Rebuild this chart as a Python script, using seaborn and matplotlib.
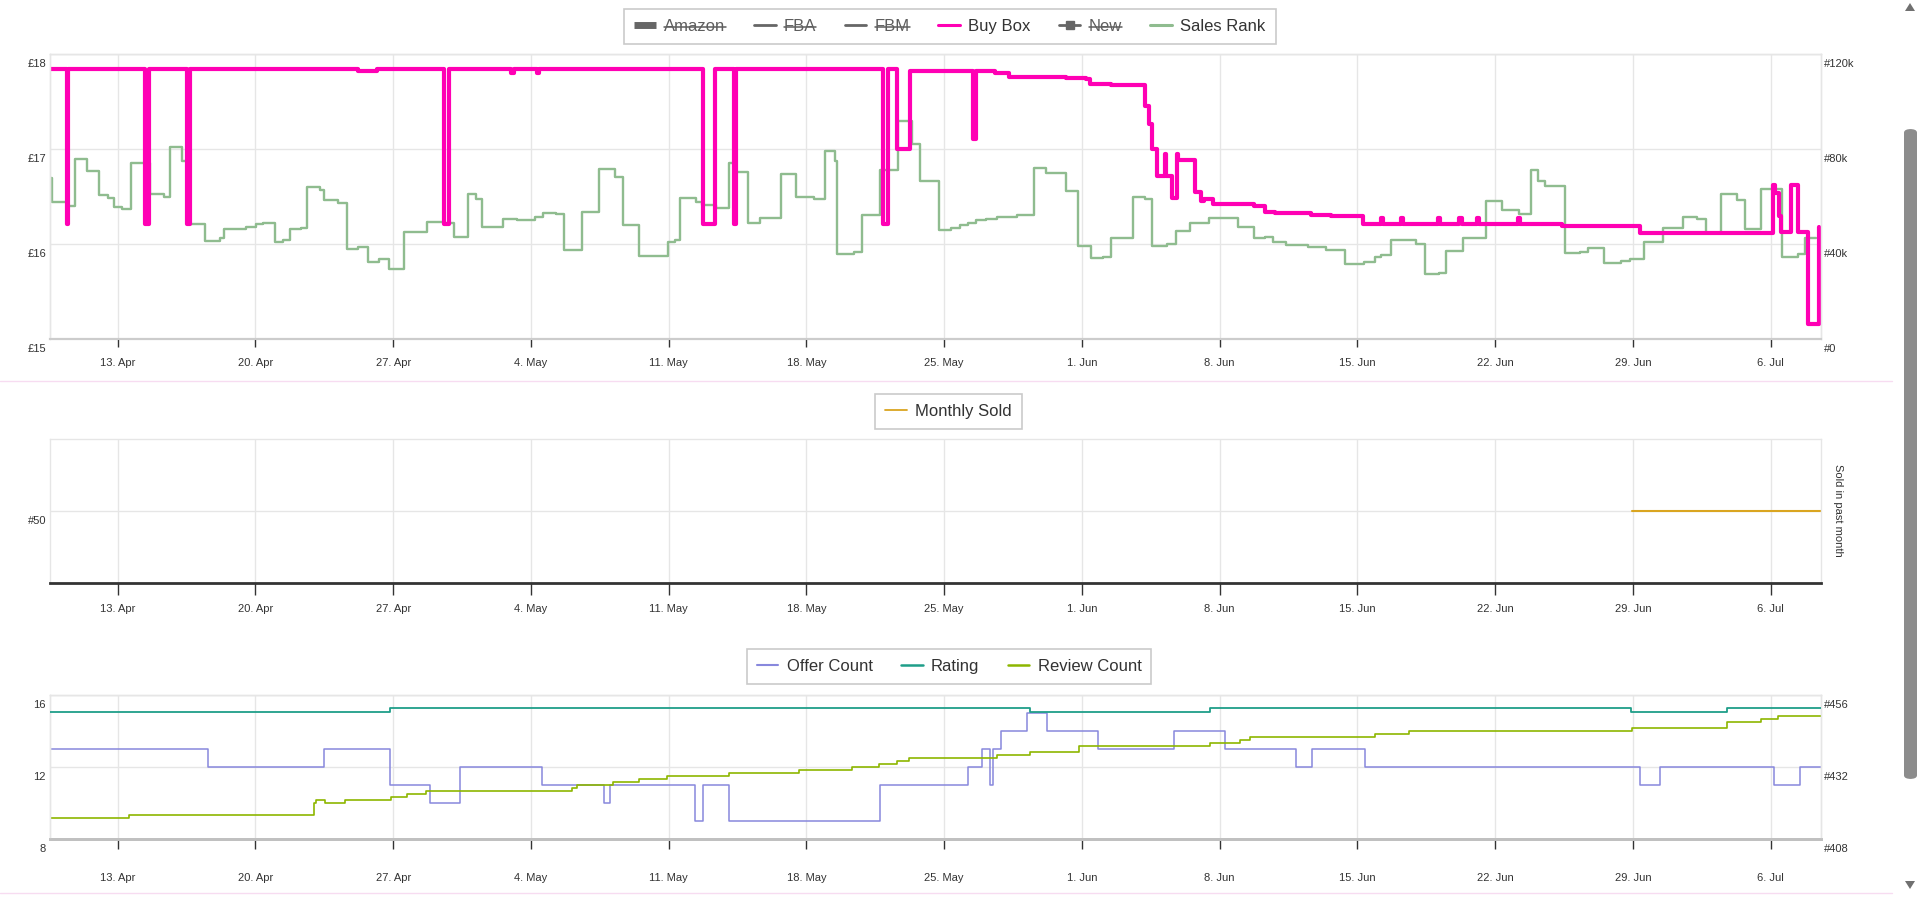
import matplotlib
matplotlib.use("Agg")
import matplotlib.pyplot as plt
import seaborn as sns
from matplotlib.lines import Line2D
from matplotlib.transforms import ScaledTranslation
from matplotlib.patches import FancyBboxPatch, Polygon

sns.set_style("white")
plt.rcParams["font.family"] = ["Liberation Sans", "DejaVu Sans"]

# ---------------- data (x = days since 13 Apr) ----------------
x_start, x_end = -3.44, 86.56
week_ticks = [0, 7, 14, 21, 28, 35, 42, 49, 56, 63, 70, 77, 84]
week_labels = ["13. Apr", "20. Apr", "27. Apr", "4. May", "11. May", "18. May",
               "25. May", "1. Jun", "8. Jun", "15. Jun", "22. Jun", "29. Jun", "6. Jul"]

price_ticks = [15, 16, 17, 18]
price_labels = ["£15", "£16", "£17", "£18"]
rank_ticks = [0, 40000, 80000, 120000]
rank_labels = ["#0", "#40k", "#80k", "#120k"]
sold_ticks = [50]
sold_labels = ["#50"]
offer_ticks = [8, 12, 16]
offer_labels = ["8", "12", "16"]
review_ticks = [408, 432, 456]
review_labels = ["#408", "#432", "#456"]

buybox_day = [-3.44, -2.60, -2.50, 1.39, 1.59, 3.52, 3.66, 12.2, 13.2, 16.6, 16.86,
              20.0, 20.15, 21.3, 21.4, 29.73, 30.37, 31.33, 31.42, 38.88, 39.15,
              39.6, 40.24, 43.45, 43.62, 44.56, 45.27, 48.2, 49.2, 49.4, 50.5,
              52.19, 52.4, 52.56, 52.8, 53.2, 53.28, 53.58, 53.83, 53.9, 54.76,
              55.06, 55.23, 55.66, 57.75, 58.29, 58.8, 60.66, 61.68, 63.3,
              64.2, 64.32, 65.2, 65.32, 67.1, 67.2, 68.15, 68.3, 69.1, 69.2,
              71.15, 71.25, 73.4, 77.34, 84.1, 84.22, 84.44, 84.52, 85.05, 85.4,
              85.9, 86.44]
buybox_gbp = [17.84, 16.21, 17.84, 16.21, 17.84, 16.21, 17.84, 17.82, 17.84, 16.21, 17.84,
              17.80, 17.84, 17.80, 17.84, 16.21, 17.84, 16.21, 17.84, 16.21, 17.84,
              17.00, 17.82, 17.10, 17.82, 17.80, 17.76, 17.75, 17.74, 17.68, 17.67,
              17.45, 17.26, 17.00, 16.72, 16.95, 16.72, 16.48, 16.95, 16.88, 16.55,
              16.45, 16.47, 16.42, 16.40, 16.34, 16.33, 16.31, 16.29, 16.21,
              16.27, 16.21, 16.27, 16.21, 16.27, 16.21, 16.27, 16.21, 16.27, 16.21,
              16.27, 16.21, 16.19, 16.12, 16.62, 16.54, 16.29, 16.13, 16.62, 16.13,
              15.16, 16.18]

rank_day = [-3.44, -3.35, -2.59, -2.16, -1.54, -0.95, -0.51, -0.17, 0.24, 0.68, 1.64,
            2.37, 2.65, 3.28, 3.50, 4.43, 5.19, 5.41, 6.54, 7.05, 7.39, 7.98, 8.40,
            8.78, 9.33, 9.64, 10.26, 10.48, 11.19, 11.67, 12.21, 12.72, 13.27, 13.81,
            14.54, 15.17, 15.73, 16.52, 17.08, 17.82, 18.21, 18.50, 19.60, 20.29,
            21.19, 21.61, 22.29, 22.66, 23.59, 24.44, 25.25, 25.66, 26.47, 27.95,
            28.34, 28.59, 29.41, 29.70, 30.40, 31.05, 31.31, 32.03, 32.63, 33.71,
            34.49, 35.41, 35.92, 36.44, 36.56, 37.41, 37.80, 38.76, 39.64, 40.37,
            40.76, 41.73, 42.36, 42.78, 43.20, 43.63, 44.14, 44.69, 45.24, 45.71,
            46.56, 47.19, 48.20, 48.80, 49.44, 50.07, 50.49, 51.59, 52.19, 52.56,
            53.34, 53.80, 54.47, 55.46, 56.93, 57.75, 58.29, 58.71, 59.39, 60.49,
            61.42, 62.36, 63.34, 63.88, 64.22, 64.69, 65.98, 66.46, 67.17, 67.51,
            68.36, 69.54, 70.34, 71.19, 71.83, 72.17, 72.54, 73.53, 74.29, 74.71,
            75.53, 76.41, 76.83, 77.56, 78.53, 79.53, 80.27, 80.73, 81.49, 82.31,
            82.68, 83.49, 84.58, 85.39, 85.73, 86.32]
rank_val = [67700, 57800, 56000, 75700, 70900, 60700, 59500, 55500, 54600, 74000, 60900,
            59900, 81000, 75000, 48400, 41300, 42400, 46200, 47300, 48300, 48700, 40700, 41700,
            46300, 46900, 64200, 62800, 58500, 57100, 37900, 38900, 32300, 33700, 29500,
            44900, 45200, 49100, 48700, 42800, 61100, 59000, 47300, 50500, 50100,
            51500, 52900, 52500, 37500, 53600, 71500, 68100, 48000, 35000, 41000,
            41700, 59500, 57800, 56400, 55300, 74300, 70500, 48700, 51100, 69400,
            59900, 58800, 79200, 75000, 35700, 36500, 52200, 71200, 91800, 82100,
            66700, 45900, 46600, 48000, 48700, 50100, 50500, 51200, 51500, 52200,
            71900, 70100, 62500, 39300, 34300, 34700, 42400, 59900, 58800, 39200,
            39900, 45500, 48700, 50800, 47300, 42400, 42800, 41000, 39600, 38600,
            37500, 31600, 32600, 34400, 35400, 41700, 39900, 27200, 27900, 37100,
            42400, 58300, 54300, 52500, 71200, 66700, 64600, 36100, 36800, 38200,
            32200, 32900, 33700, 40700, 46600, 51500, 50500, 44500, 61100, 58500,
            46300, 63000, 34700, 35700, 42400, 42400]

sold_day = [76.93, 86.56]
sold_qty = [50, 50]

offer_day = [-3.44, 4.57, 10.5, 13.84, 15.85, 17.38, 21.56, 24.69, 25.02, 29.34, 29.73,
             31.05, 38.76, 43.23, 43.9, 44.32, 44.48, 44.9, 46.2, 47.21, 49.8, 53.66,
             56.29, 59.89, 60.71, 63.38, 77.38, 78.38, 84.16, 85.51, 86.56]
offer_cnt = [13, 12, 13, 11, 10, 12, 11, 10, 11, 9, 11,
             9, 11, 12, 13, 11, 13, 14, 15, 14, 13, 14,
             13, 12, 13, 12, 11, 12, 11, 12, 12]

rating_day = [-3.44, 13.86, 46.35, 55.51, 76.92, 81.76, 86.56]
rating_val = [4.4, 4.5, 4.4, 4.5, 4.4, 4.5, 4.5]

review_day = [-3.44, 0.56, 9.96, 10.1, 10.54, 11.55, 13.88, 14.68, 15.69, 23.08, 23.33,
              25.18, 26.5, 27.9, 31.05, 34.6, 37.3, 38.7, 39.6, 40.2, 44.7, 46.35,
              48.86, 55.51, 57.04, 57.54, 63.92, 65.63, 76.96, 81.76, 83.5, 84.37, 86.56]
review_cnt = [415, 416, 420, 421, 420, 421, 422, 423, 424, 425, 426,
              427, 428, 429, 430, 431, 432, 433, 434, 435, 436, 437,
              439, 440, 441, 442, 443, 444, 445, 447, 448, 449, 449]

# ---------------- colours ----------------
C_BUYBOX = "#ff00b4"
C_RANK = "#8fbc8f"
C_SOLD = "#daa520"
C_OFFER = "#8888dd"
C_RATING = "#1f9e89"
C_REVIEW = "#8db600"
C_GRID = "#e6e6e6"
C_TEXT = "#333333"
C_HIDDEN = "#5e5e5e"

W, H = 1921, 897
fig = plt.figure(figsize=(W / 100, H / 100), dpi=100)


def rect(l, t, r, b):
    return [l / W, 1 - b / H, (r - l) / W, (b - t) / H]


def px(v):
    return v * 0.72  # pixels -> points at 100 dpi


down = ScaledTranslation(0, -0.09, fig.dpi_scale_trans)


def style_y(ax, ticks, labels, side):
    ax.set_yticks(ticks)
    ax.set_yticklabels(labels)
    ax.tick_params(axis="y", length=0, labelsize=8, colors=C_TEXT,
                   pad=px(4) if side == "left" else px(3))
    for lbl in ax.get_yticklabels():
        lbl.set_transform(lbl.get_transform() + down)


def style_x(ax, ticklen, labtop):
    ax.set_xlim(x_start, x_end)
    ax.set_xticks(week_ticks)
    ax.set_xticklabels(week_labels)
    ax.tick_params(axis="x", direction="out", length=px(ticklen), width=1,
                   color="#333333", labelsize=8, labelcolor=C_TEXT,
                   pad=px(labtop - ticklen), bottom=True)


def spines(axes, bottom_color, bottom_lw):
    for a in axes:
        for k, s in a.spines.items():
            s.set_color(C_GRID)
            s.set_linewidth(1)
        a.spines["bottom"].set_color(bottom_color)
        a.spines["bottom"].set_linewidth(bottom_lw)


def grid_on(a):
    a.xaxis.set_visible(True)
    a.grid(True, axis="both", color=C_GRID, linewidth=1)
    a.set_axisbelow(True)


# ---------------- top panel ----------------
ax1 = fig.add_axes(rect(50, 54, 1821, 339))
ax1r = ax1.twinx()
ax1.set_zorder(ax1r.get_zorder() + 1)
ax1.patch.set_visible(False)

sns.lineplot(x=rank_day, y=rank_val, ax=ax1r, color=C_RANK, linewidth=1.7,
             drawstyle="steps-post", estimator=None, sort=False, legend=False)
sns.lineplot(x=buybox_day, y=buybox_gbp, ax=ax1, color=C_BUYBOX, linewidth=3.0,
             drawstyle="steps-post", estimator=None, sort=False, legend=False,
             solid_joinstyle="round", solid_capstyle="round")
ax1.set_ylim(15, 18)
ax1r.set_ylim(0, 120000)
style_x(ax1, 8, 19.5)
style_y(ax1, price_ticks, price_labels, "left")
style_y(ax1r, rank_ticks, rank_labels, "right")
grid_on(ax1r)
ax1r.tick_params(axis="x", bottom=False, top=False, labelbottom=False, labeltop=False)
ax1.grid(False)
spines([ax1, ax1r], "#cccccc", 1.5)
for a in (ax1, ax1r):
    a.set_xlabel("")
    a.set_ylabel("")

# ---------------- middle panel ----------------
ax2 = fig.add_axes(rect(50, 439, 1821, 583))
sns.lineplot(x=sold_day, y=sold_qty, ax=ax2, color=C_SOLD, linewidth=1.5,
             drawstyle="steps-post", estimator=None, sort=False, legend=False)
ax2.set_ylim(0, 100)
style_x(ax2, 12, 21.5)
style_y(ax2, sold_ticks, sold_labels, "left")
grid_on(ax2)
spines([ax2], "#333333", 2)
ax2.set_xlabel("")
ax2.set_ylabel("")
fig.text(1838 / W, 1 - 510 / H, "Sold in past month", rotation=270, fontsize=8,
         color=C_TEXT, ha="center", va="center")

# ---------------- bottom panel ----------------
ax3 = fig.add_axes(rect(50, 695, 1821, 839))
ax3r = ax3.twinx()
ax3g = ax3.twinx()
sns.lineplot(x=offer_day, y=offer_cnt, ax=ax3, color=C_OFFER, linewidth=1.1,
             drawstyle="steps-post", estimator=None, sort=False, legend=False)
sns.lineplot(x=rating_day, y=rating_val, ax=ax3g, color=C_RATING, linewidth=1.3,
             drawstyle="steps-post", estimator=None, sort=False, legend=False)
sns.lineplot(x=review_day, y=review_cnt, ax=ax3r, color=C_REVIEW, linewidth=1.2,
             drawstyle="steps-post", estimator=None, sort=False, legend=False)
ax3.set_ylim(8, 16)
ax3r.set_ylim(408, 456)
ax3g.set_ylim(1.22, 4.83)
ax3g.set_axis_off()
style_x(ax3, 10, 33.5)
style_y(ax3, offer_ticks, offer_labels, "left")
style_y(ax3r, review_ticks, review_labels, "right")
ax3.grid(True, axis="both", color=C_GRID, linewidth=1)
ax3.set_axisbelow(True)
spines([ax3, ax3r], "#c0c0c0", 2)
for a in (ax3, ax3r):
    a.set_xlabel("")
    a.set_ylabel("")

# ---------------- legends ----------------
leg_kw = dict(loc="center", frameon=True, fancybox=False, edgecolor="#bdbdbd",
              fontsize=12, borderpad=0.6, handlelength=1.3, handletextpad=0.5,
              columnspacing=1.7, borderaxespad=0)

top_names = ["Amazon", "FBA", "FBM", "Buy Box", "New", "Sales Rank"]
top_hidden = [True, True, True, False, True, False]
top_handles = [
    Line2D([], [], color="#666666", linewidth=5, solid_capstyle="butt"),
    Line2D([], [], color="#666666", linewidth=2),
    Line2D([], [], color="#666666", linewidth=2),
    Line2D([], [], color=C_BUYBOX, linewidth=2.2),
    Line2D([], [], color="#666666", linewidth=2, marker="s", markersize=6),
    Line2D([], [], color=C_RANK, linewidth=2.2),
]
leg1 = fig.legend(top_handles, top_names, ncol=6,
                  bbox_to_anchor=(950 / W, 1 - 26.5 / H), **leg_kw)
leg2 = fig.legend([Line2D([], [], color=C_SOLD, linewidth=1.3)], ["Monthly Sold"],
                  ncol=1, bbox_to_anchor=(948.5 / W, 1 - 411.5 / H), **leg_kw)
leg3 = fig.legend([Line2D([], [], color=C_OFFER, linewidth=1.5),
                   Line2D([], [], color=C_RATING, linewidth=1.8),
                   Line2D([], [], color=C_REVIEW, linewidth=1.8)],
                  ["Offer Count", "Rating", "Review Count"], ncol=3,
                  bbox_to_anchor=(949 / W, 1 - 666.5 / H), **leg_kw)
for lg in (leg1, leg2, leg3):
    lg.get_frame().set_linewidth(1.2)
    for t in lg.get_texts():
        t.set_color(C_TEXT)
for t, hid in zip(leg1.get_texts(), top_hidden):
    if hid:
        t.set_color(C_HIDDEN)

# ---------------- page decorations ----------------
for yy in (381, 893):
    fig.add_artist(Line2D([0, 1892 / W], [1 - yy / H, 1 - yy / H],
                          transform=fig.transFigure, color="#f7dcf1", linewidth=1))
fig.add_artist(FancyBboxPatch((1904 / W, 1 - 779 / H), 13 / W, 650 / H,
                              boxstyle="round,pad=0,rounding_size=0.004",
                              transform=fig.transFigure, facecolor="#8c8c8c",
                              edgecolor="none"))
fig.add_artist(Polygon([[1905 / W, 1 - 11 / H], [1915 / W, 1 - 11 / H],
                        [1910 / W, 1 - 3 / H]], closed=True,
                       transform=fig.transFigure, facecolor="#707070", edgecolor="none"))
fig.add_artist(Polygon([[1905 / W, 1 - 881 / H], [1915 / W, 1 - 881 / H],
                        [1910 / W, 1 - 889 / H]], closed=True,
                       transform=fig.transFigure, facecolor="#707070", edgecolor="none"))

# strike-through for hidden legend entries (drawn above the legend box)
fig.canvas.draw()
renderer = fig.canvas.get_renderer()
for t, hid in zip(leg1.get_texts(), top_hidden):
    if hid:
        bb = t.get_window_extent(renderer)
        yy = (bb.y0 + 0.47 * bb.height) / H
        fig.add_artist(Line2D([bb.x0 / W, bb.x1 / W], [yy, yy],
                              transform=fig.transFigure, color=C_HIDDEN,
                              linewidth=1.1, zorder=20))

fig.savefig("out.png", dpi=100)
